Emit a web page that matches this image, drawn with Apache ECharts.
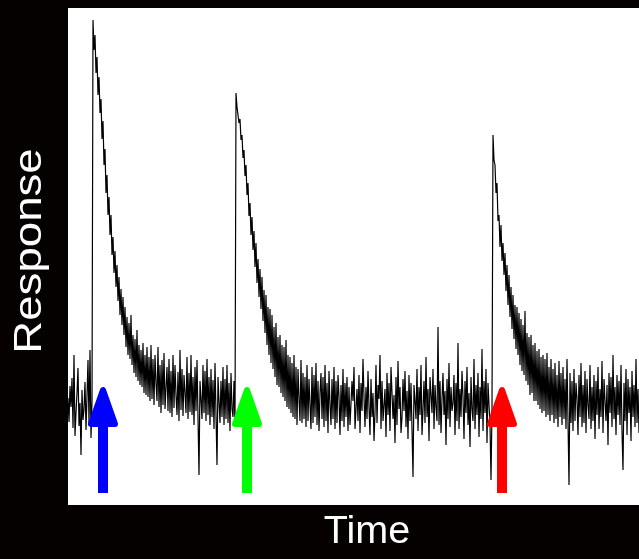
<!DOCTYPE html>
<html>
<head>
<meta charset="utf-8">
<title>Response</title>
<script src="https://cdn.jsdelivr.net/npm/echarts@6/dist/echarts.min.js"></script>
<style>
  html, body { margin: 0; padding: 0; background: #060101; }
  #chart { width: 639px; height: 559px; }
</style>
</head>
<body>
<div id="chart"></div>
<script>
// Recorded response, one sample per time step.
const trace = [
  // resting level before the first stimulus
  107,83,119,98,127,77,150,69,92,112,
  137,79,102,50,115,85,96,123,75,109,
  145,81,155,67,103,
  // first stimulus response and decay
  485,455,470,432,448,410,428,392,406,366,
  384,340,356,312,330,290,308,270,290,250,
  268,232,254,218,240,204,228,190,216,180,
  208,170,198,158,188,150,182,146,190,140,
  170,132,166,128,175,124,160,120,155,118,
  162,112,150,110,158,108,148,104,160,106,
  146,100,150,122,104,158,98,140,92,145,
  100,152,96,118,138,94,146,92,134,88,
  150,97,140,110,90,133,84,155,95,136,
  89,130,112,92,148,86,132,93,150,90,
  128,80,138,94,145,88,30,124,106,86,
  140,92,134,84,146,90,128,80,136,88,
  125,76,142,90,40,128,104,82,124,88,
  138,80,126,86,140,82,122,74,132,96,
  88,124,78,
  // second stimulus response and decay
  412,398,400,382,386,365,370,347,355,329,
  340,310,322,289,302,270,288,255,274,238,
  262,222,246,208,236,196,228,184,215,172,
  210,160,198,150,196,142,190,136,178,128,
  182,120,168,118,170,112,160,108,158,104,
  165,98,150,96,148,92,142,88,150,86,
  138,80,136,106,84,145,82,132,86,128,
  78,140,84,126,100,76,138,82,130,88,
  142,80,124,74,112,132,86,128,78,140,
  84,122,72,134,100,80,126,86,138,76,
  124,82,130,108,70,120,84,136,78,122,
  88,128,74,118,80,
  // resting level between the second and third stimuli
  80,124,104,138,76,96,116,84,130,72,
  122,94,146,108,78,118,86,134,98,70,
  126,88,112,64,92,140,82,120,106,150,
  76,124,84,100,116,68,132,90,122,74,
  138,112,86,110,62,128,80,144,96,118,
  72,88,126,94,134,78,114,66,130,84,
  122,76,28,120,104,86,136,74,118,90,
  140,70,96,124,82,148,88,116,64,128,
  110,92,136,76,120,98,84,178,80,124,
  72,106,132,90,114,60,126,86,142,78,
  118,94,102,130,70,122,84,162,76,116,
  88,134,108,66,124,92,138,80,112,58,
  128,96,84,146,76,120,90,132,68,118,
  86,156,74,124,92,136,62,122,100,80,
  25,96,
  // third stimulus response and decay
  370,345,340,312,322,284,290,258,280,244,
  262,230,252,214,240,200,230,188,218,176,
  210,166,200,156,198,150,192,140,186,134,
  180,130,194,124,172,120,168,110,170,112,
  160,104,162,104,154,100,156,96,148,92,
  150,94,146,88,152,90,138,84,146,90,
  136,82,142,86,130,78,144,88,132,80,
  138,86,126,76,146,84,20,132,82,124,
  74,136,84,122,106,70,130,88,142,78,
  120,82,134,72,126,100,86,140,76,118,
  84,130,66,124,90,138,76,116,88,144,
  72,126,104,84,120,60,132,92,128,78,
  150,86,118,70,130,90,124,80,140,74,
  35,122,84,136,70,126,92,118,64,134,
  88,120,78,146,82,116,72
];

// Stimulus markers: onset time, arrow tip level, arrow tail level, colour
const stimTimes = [35, 179, 434];
const stimColors = ['#0000ff', '#00ff00', '#ff0000'];
const arrowTip = 118;
const arrowTail = 12;

const timeMax = 571;
const responseMax = 497;

const lineData = trace.map((v, i) => [i, v]);
const arrowData = stimTimes.map((t, k) => [t, arrowTip, arrowTail, k]);

const chart = echarts.init(document.getElementById('chart'), null, { renderer: 'canvas' });

chart.setOption({
  backgroundColor: '#060101',
  animation: false,
  grid: {
    left: 68, right: 0, top: 8, bottom: 54,
    show: true, backgroundColor: '#ffffff', borderWidth: 0
  },
  xAxis: {
    type: 'value', min: 0, max: timeMax, show: false
  },
  yAxis: {
    type: 'value', min: 0, max: responseMax, show: false
  },
  series: [
    {
      type: 'line',
      data: lineData,
      showSymbol: false,
      symbol: 'none',
      lineStyle: { color: '#000000', width: 1.2 },
      silent: true,
      z: 2
    },
    {
      type: 'custom',
      data: arrowData,
      z: 3,
      renderItem: function (params, api) {
        const tip = api.coord([api.value(0), api.value(1)]);
        const tail = api.coord([api.value(0), api.value(2)]);
        const color = stimColors[api.value(3)];
        return {
          type: 'group',
          children: [
            {
              type: 'line',
              shape: { x1: tip[0], y1: tip[1] + 30, x2: tail[0], y2: tail[1] },
              style: { stroke: color, lineWidth: 10, lineCap: 'butt' }
            },
            {
              type: 'polygon',
              shape: {
                points: [
                  [tip[0], tip[1] + 3],
                  [tip[0] - 12, tip[1] + 37],
                  [tip[0] + 12, tip[1] + 37]
                ]
              },
              style: { fill: color, stroke: color, lineWidth: 6, lineJoin: 'round' }
            }
          ]
        };
      }
    }
  ],
  graphic: [
    {
      type: 'text',
      x: 367, y: 533,
      scaleX: 1.04,
      style: {
        text: 'Time',
        fill: '#ffffff',
        font: '38px "Liberation Sans", Arial, sans-serif',
        align: 'center',
        verticalAlign: 'middle'
      }
    },
    {
      type: 'text',
      x: 31, y: 251,
      rotation: Math.PI / 2,
      scaleX: 1.2,
      style: {
        text: 'Response',
        fill: '#ffffff',
        font: '38px "Liberation Sans", Arial, sans-serif',
        align: 'center',
        verticalAlign: 'middle'
      }
    }
  ]
});
</script>
</body>
</html>
